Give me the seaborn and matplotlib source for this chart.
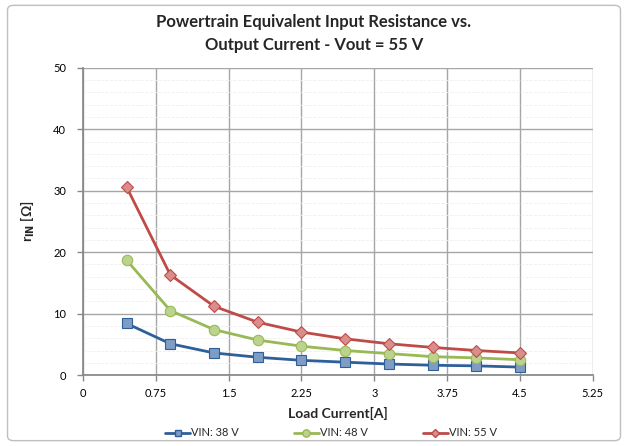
import matplotlib
matplotlib.use("Agg")
import matplotlib.pyplot as plt
import seaborn as sns
import pandas as pd
from matplotlib.patches import FancyBboxPatch

# ── data ──────────────────────────────────────────────────────────────────────
load_current = [0.45, 0.9, 1.35, 1.8, 2.25, 2.7, 3.15, 3.6, 4.05, 4.5]
rin_38v = [8.4, 5.1, 3.6, 2.9, 2.4, 2.1, 1.8, 1.6, 1.5, 1.3]
rin_48v = [18.7, 10.5, 7.4, 5.7, 4.7, 4.0, 3.5, 3.0, 2.8, 2.5]
rin_55v = [30.6, 16.3, 11.2, 8.6, 7.0, 5.9, 5.1, 4.5, 4.0, 3.6]
series_names = ["VIN: 38 V", "VIN: 48 V", "VIN: 55 V"]
x_ticks = [0, 0.75, 1.5, 2.25, 3, 3.75, 4.5, 5.25]
x_tick_labels = ["0", "0.75", "1.5", "2.25", "3", "3.75", "4.5", "5.25"]
y_ticks = [0, 10, 20, 30, 40, 50]

df = pd.DataFrame({
    "current": load_current * 3,
    "rin": rin_38v + rin_48v + rin_55v,
    "series": sum([[n] * len(load_current) for n in series_names], []),
})

sns.set_theme(style="white")
plt.rcParams["font.family"] = ["Lato", "DejaVu Sans"]

line_colors = ["#2F5F98", "#98B954", "#BE4B48"]
fill_colors = ["#7F9CC4", "#BCD38E", "#DA8E8C"]
markers = ["s", "o", "D"]
msizes = [7, 7.5, 6]

fig = plt.figure(figsize=(6.28, 4.46), dpi=100)
fig.patches.append(FancyBboxPatch((0.012, 0.012), 0.976, 0.976, boxstyle="round,pad=0,rounding_size=0.01",
                                  transform=fig.transFigure, fill=False, edgecolor="#BFBFBF", lw=1))
ax = fig.add_axes([0.132, 0.159, 0.812, 0.689])

sns.lineplot(data=df, x="current", y="rin", hue="series", palette=line_colors,
             ax=ax, legend=False, linewidth=2)
for i, name in enumerate(series_names):
    sub = df[df["series"] == name]
    ax.plot(sub["current"], sub["rin"], linestyle="none", marker=markers[i], ms=msizes[i],
            mfc=fill_colors[i], mec=line_colors[i], mew=0.8, zorder=3)

ax.set_xlim(0, 5.25)
ax.set_ylim(0, 50)
ax.set_xticks(x_ticks)
ax.set_xticklabels(x_tick_labels)
ax.set_yticks(y_ticks)
ax.set_yticks(range(0, 51, 2), minor=True)
ax.grid(True, which="major", color="#A6A6A6", lw=1)
ax.grid(True, which="minor", axis="y", color="#EFEFEF", lw=0.6, linestyle="--")
ax.set_axisbelow(True)
for sp in ("top", "right"):
    ax.spines[sp].set_visible(False)
for sp in ("left", "bottom"):
    ax.spines[sp].set_color("#888888")
ax.tick_params(axis="both", which="major", labelsize=8, colors="#888888", labelcolor="#000000",
               length=4, direction="out", bottom=True, left=True, width=1)
ax.tick_params(axis="y", which="minor", left=False)
ax.tick_params(axis="x", pad=5)
ax.tick_params(axis="y", pad=8)

ax.set_xlabel("Load Current[A]", fontsize=10, fontweight="bold", labelpad=6)
ax.set_ylabel(r"r$_{\mathbf{IN}}$ [Ω]", fontsize=10, fontweight="bold", labelpad=12)
fig.text(0.5, 1 - 22 / 446, "Powertrain Equivalent Input Resistance vs.", ha="center", va="center",
         fontsize=12, fontweight="bold")
fig.text(0.5, 1 - 45 / 446, "Output Current - Vout = 55 V", ha="center", va="center",
         fontsize=12, fontweight="bold")

handles = [plt.Line2D([], [], color=line_colors[i], lw=2, marker=markers[i], ms=msizes[i] * 0.7,
                      mfc=fill_colors[i], mec=line_colors[i]) for i in range(3)]
fig.legend(handles, series_names, loc="center", bbox_to_anchor=(331 / 628, 1 - 433 / 446), ncol=3,
           frameon=False, fontsize=8, handlelength=2.2, handletextpad=0.1, columnspacing=5)

plt.savefig("out.png", dpi=100)
